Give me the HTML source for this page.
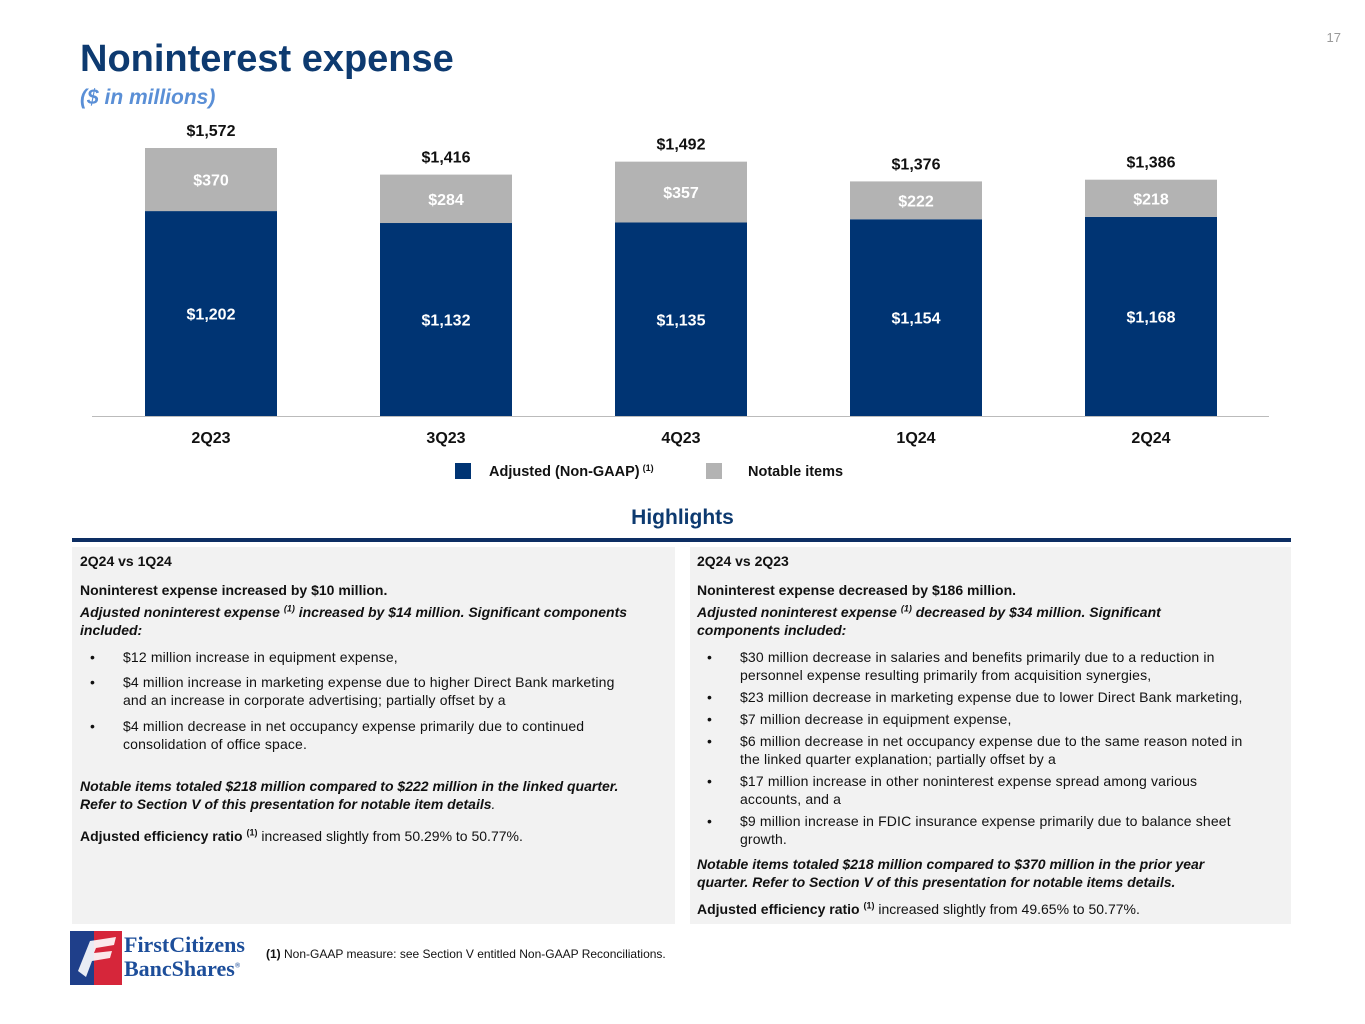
<!DOCTYPE html>
<html><head><meta charset="utf-8"><style>
body{margin:0;width:1365px;height:1024px;background:#fff;font-family:"Liberation Sans",Arial,sans-serif;position:relative;overflow:hidden;color:#111}
.abs{position:absolute}
.panel{position:absolute;top:547px;height:377px;background:#f2f2f2}
.t{position:absolute;font-size:14px;line-height:18px;white-space:nowrap}
.b{font-weight:bold}.i{font-style:italic}
sup{font-size:9px;line-height:0}
.bul{position:absolute;font-size:14px;line-height:18px;white-space:nowrap;letter-spacing:0.15px}
.bul:before{content:"•";position:absolute;left:-33px}
</style></head><body>
<div class="abs" style="right:24px;top:30px;font-size:13px;color:#999">17</div>
<div class="abs b" style="left:80px;top:38px;font-size:38px;color:#0d3a70">Noninterest expense</div>
<div class="abs b i" style="left:80px;top:86px;font-size:21px;color:#5a8fd6">($ in millions)</div>
<svg class="abs" id="chart" style="left:0;top:0" width="1365" height="500"></svg>
<div class="abs b" style="left:0;width:1365px;text-align:center;top:506px;font-size:21px;color:#0d3a70">Highlights</div>
<div class="abs" style="left:72px;width:1219px;top:538px;height:4px;background:#0d2e63"></div>
<div class="panel" style="left:72px;width:603px"></div>
<div class="panel" style="left:690px;width:601px"></div>
<div>
<div class="t b" style="left:80px;top:552px">2Q24 vs 1Q24</div>
<div class="t b" style="left:80px;top:581px">Noninterest expense increased by $10 million.</div>
<div class="t b i" style="left:80px;top:603px">Adjusted noninterest expense <sup>(1)</sup> increased by $14 million. Significant components<br>included:</div>
<div class="bul" style="left:123px;top:648px">$12 million increase in equipment expense,</div>
<div class="bul" style="left:123px;top:673px">$4 million increase in marketing expense due to higher Direct Bank marketing<br>and an increase in corporate advertising; partially offset by a</div>
<div class="bul" style="left:123px;top:717px">$4 million decrease in net occupancy expense primarily due to continued<br>consolidation of office space.</div>
<div class="t b i" style="left:80px;top:777px">Notable items totaled $218 million compared to $222 million in the linked quarter.<br>Refer to Section V of this presentation for notable item details<span style="font-weight:normal">.</span></div>
<div class="t" style="left:80px;top:827px"><b>Adjusted efficiency ratio <sup>(1)</sup></b> increased slightly from 50.29% to 50.77%.</div>
</div>
<div>
<div class="t b" style="left:697px;top:552px">2Q24 vs 2Q23</div>
<div class="t b" style="left:697px;top:581px">Noninterest expense decreased by $186 million.</div>
<div class="t b i" style="left:697px;top:603px">Adjusted noninterest expense <sup>(1)</sup> decreased by $34 million. Significant<br>components included:</div>
<div class="bul" style="left:740px;top:648px">$30 million decrease in salaries and benefits primarily due to a reduction in<br>personnel expense resulting primarily from acquisition synergies,</div>
<div class="bul" style="left:740px;top:688px">$23 million decrease in marketing expense due to lower Direct Bank marketing,</div>
<div class="bul" style="left:740px;top:710px">$7 million decrease in equipment expense,</div>
<div class="bul" style="left:740px;top:732px">$6 million decrease in net occupancy expense due to the same reason noted in<br>the linked quarter explanation; partially offset by a</div>
<div class="bul" style="left:740px;top:772px">$17 million increase in other noninterest expense spread among various<br>accounts, and a</div>
<div class="bul" style="left:740px;top:812px">$9 million increase in FDIC insurance expense primarily due to balance sheet<br>growth.</div>
<div class="t b i" style="left:697px;top:855px">Notable items totaled $218 million compared to $370 million in the prior year<br>quarter. Refer to Section V of this presentation for notable items details.</div>
<div class="t" style="left:697px;top:900px"><b>Adjusted efficiency ratio <sup>(1)</sup></b> increased slightly from 49.65% to 50.77%.</div>
</div>
<svg class="abs" style="left:70px;top:931px" width="52" height="54">
<rect width="52" height="54" fill="#d6263a"/><rect x="0" y="0" width="24" height="54" fill="#1f3f8a"/>
<path d="M8 40 L20 10 L46 6 L44 14 L26 17 L24 22 L42 20 L40 27 L22 30 L16 46 Z" fill="#fff" opacity="0.9"/>
</svg>
<div class="abs" style="left:124px;top:933px;font-family:'Liberation Serif',serif;font-weight:bold;font-size:22px;line-height:24px;color:#1d4e9a">FirstCitizens<br>BancShares<sup style="font-size:7px">®</sup></div>
<div class="abs" style="left:266px;top:947px;font-size:12px"><b>(1)</b> Non-GAAP measure: see Section V entitled Non-GAAP Reconciliations.</div>
<script>
const categories=["2Q23","3Q23","4Q23","1Q24","2Q24"];
const adjusted=[1202,1132,1135,1154,1168];
const notable=[370,284,357,222,218];
const totals=[1572,1416,1492,1376,1386];
const svg=document.getElementById('chart');
const NS="http://www.w3.org/2000/svg";
const base=416,scale=268/1572,x0=211,step=235,bw=132;
const y=v=>base-v*scale;
const xc=i=>x0+i*step;
function mk(tag,attrs,text){const e=document.createElementNS(NS,tag);for(const k in attrs)e.setAttribute(k,attrs[k]);if(text!==undefined)e.textContent=text;svg.appendChild(e);return e;}
categories.forEach((c,i)=>{
 const a=mk('rect',{x:xc(i)-bw/2,y:y(adjusted[i]),width:bw,height:adjusted[i]*scale,fill:'#003473'});
 
 
 const n=mk('rect',{x:xc(i)-bw/2,y:y(adjusted[i]+notable[i]),width:bw,height:notable[i]*scale,fill:'#b3b3b3'});
 
 
 const t1=mk('text',{x:xc(i),y:(y(adjusted[i])+base)/2+6,'text-anchor':'middle','font-size':16,'font-weight':'bold',fill:'#fff','font-family':'Liberation Sans'},'$'+adjusted[i].toLocaleString('en-US'));
 
 
 const t2=mk('text',{x:xc(i),y:(y(adjusted[i])+y(adjusted[i]+notable[i]))/2+6,'text-anchor':'middle','font-size':16,'font-weight':'bold',fill:'#fff','font-family':'Liberation Sans'},'$'+notable[i]);
 
 
 const t3=mk('text',{x:xc(i),y:y(totals[i])-12,'text-anchor':'middle','font-size':16,'font-weight':'bold',fill:'#111','font-family':'Liberation Sans'},'$'+totals[i].toLocaleString('en-US'));
 
 
 const t4=mk('text',{x:xc(i),y:443,'text-anchor':'middle','font-size':16,'font-weight':'bold',fill:'#111','font-family':'Liberation Sans'},c);
 
 
});
const ax=mk('line',{x1:92,x2:1269,y1:416.5,y2:416.5,stroke:'#bbb','stroke-width':1});


const l1=mk('rect',{x:455,y:463,width:16,height:16,fill:'#003473'});


const lt1=mk('text',{x:489,y:476,'font-size':14.5,'font-weight':'bold',fill:'#111','font-family':'Liberation Sans'},'Adjusted (Non-GAAP)');


const sp=document.createElementNS(NS,'tspan');sp.setAttribute('dx','3');sp.setAttribute('dy','-5');sp.setAttribute('font-size','9');sp.textContent='(1)';lt1.appendChild(sp);
const l2=mk('rect',{x:706,y:463,width:16,height:16,fill:'#b3b3b3'});


const lt2=mk('text',{x:748,y:476,'font-size':14.5,'font-weight':'bold',fill:'#111','font-family':'Liberation Sans'},'Notable items');


</script>
</body></html>
